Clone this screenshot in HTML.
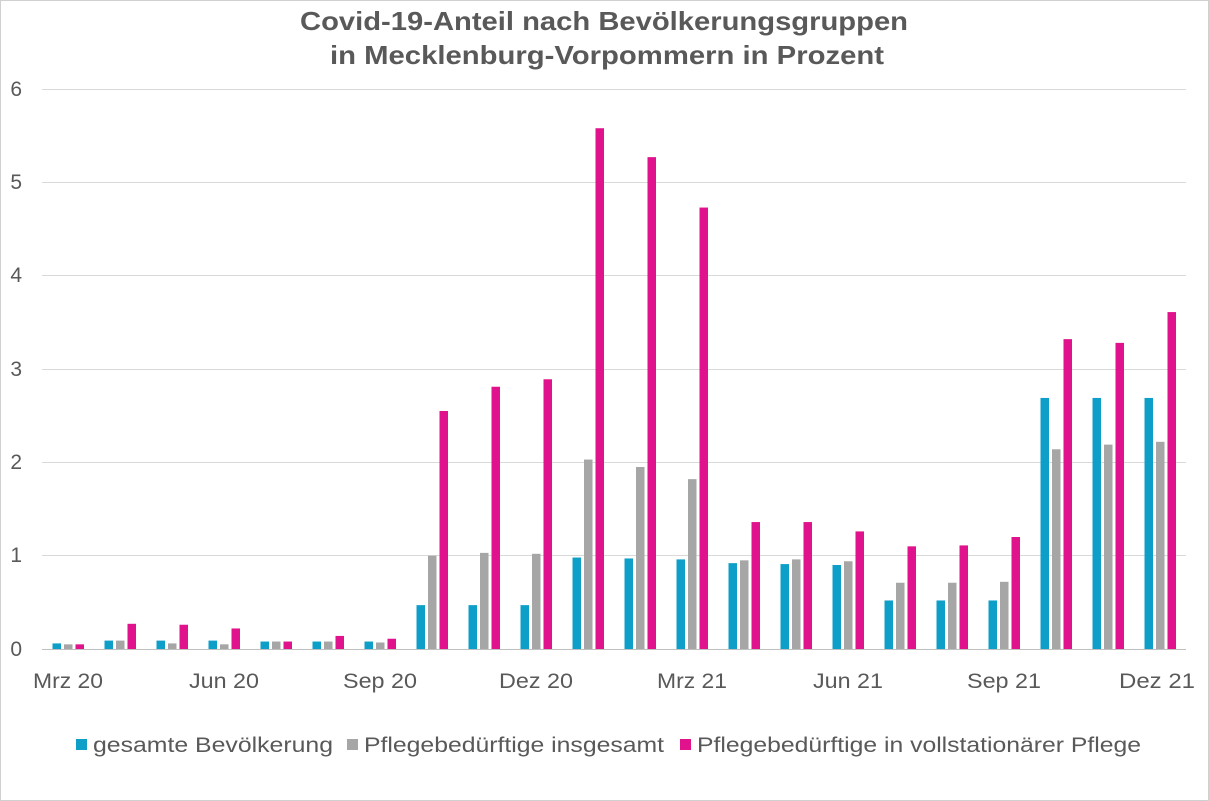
<!DOCTYPE html>
<html><head><meta charset="utf-8"><style>
body{margin:0;background:#fff}
svg{display:block;font-family:"Liberation Sans",Arial,sans-serif}
</style></head><body>
<svg width="1209" height="801" viewBox="0 0 1209 801" xmlns="http://www.w3.org/2000/svg">
<rect x="0.5" y="0.5" width="1208" height="800" fill="#fff" stroke="#d0d0d0"/>
<text x="604" y="30" text-anchor="middle" font-size="26" font-weight="bold" fill="#595959" textLength="608" lengthAdjust="spacingAndGlyphs">Covid-19-Anteil nach Bevölkerungsgruppen</text>
<text x="607" y="64" text-anchor="middle" font-size="26" font-weight="bold" fill="#595959" textLength="554" lengthAdjust="spacingAndGlyphs">in Mecklenburg-Vorpommern in Prozent</text>
<g stroke="#d9d9d9" stroke-width="1">
<line x1="42" x2="1186" y1="89.5" y2="89.5"/><line x1="42" x2="1186" y1="182.5" y2="182.5"/>
<line x1="42" x2="1186" y1="275.5" y2="275.5"/><line x1="42" x2="1186" y1="369.5" y2="369.5"/>
<line x1="42" x2="1186" y1="462.5" y2="462.5"/><line x1="42" x2="1186" y1="555.5" y2="555.5"/>
</g>
<g font-size="21" fill="#595959" text-anchor="end">
<text x="22" y="96">6</text><text x="22" y="189">5</text><text x="22" y="282">4</text>
<text x="22" y="376">3</text><text x="22" y="469">2</text><text x="22" y="562">1</text><text x="22" y="656">0</text>
</g>
<g transform="translate(0,649) scale(1,-93.33)">
<g fill="#0e9fc8">
<rect x="52.5" width="8.5" height=".06"/><rect x="104.5" width="8.5" height=".09"/><rect x="156.5" width="8.5" height=".09"/><rect x="208.5" width="8.5" height=".09"/><rect x="260.5" width="8.5" height=".08"/><rect x="312.5" width="8.5" height=".08"/><rect x="364.5" width="8.5" height=".08"/><rect x="416.5" width="8.5" height=".47"/><rect x="468.5" width="8.5" height=".47"/><rect x="520.5" width="8.5" height=".47"/><rect x="572.5" width="8.5" height=".98"/><rect x="624.5" width="8.5" height=".97"/><rect x="676.5" width="8.5" height=".96"/><rect x="728.5" width="8.5" height=".92"/><rect x="780.5" width="8.5" height=".91"/><rect x="832.5" width="8.5" height=".90"/><rect x="884.5" width="8.5" height=".52"/><rect x="936.5" width="8.5" height=".52"/><rect x="988.5" width="8.5" height=".52"/><rect x="1040.5" width="8.5" height="2.69"/><rect x="1092.5" width="8.5" height="2.69"/><rect x="1144.5" width="8.5" height="2.69"/>
</g>
<g fill="#a6a6a6">
<rect x="64" width="8.5" height=".05"/><rect x="116" width="8.5" height=".09"/><rect x="168" width="8.5" height=".06"/><rect x="220" width="8.5" height=".05"/><rect x="272" width="8.5" height=".08"/><rect x="324" width="8.5" height=".08"/><rect x="376" width="8.5" height=".07"/><rect x="428" width="8.5" height="1.0"/><rect x="480" width="8.5" height="1.03"/><rect x="532" width="8.5" height="1.02"/><rect x="584" width="8.5" height="2.03"/><rect x="636" width="8.5" height="1.95"/><rect x="688" width="8.5" height="1.82"/><rect x="740" width="8.5" height=".95"/><rect x="792" width="8.5" height=".96"/><rect x="844" width="8.5" height=".94"/><rect x="896" width="8.5" height=".71"/><rect x="948" width="8.5" height=".71"/><rect x="1000" width="8.5" height=".72"/><rect x="1052" width="8.5" height="2.14"/><rect x="1104" width="8.5" height="2.19"/><rect x="1156" width="8.5" height="2.22"/>
</g>
<g fill="#e0128c">
<rect x="75.5" width="8.5" height=".05"/><rect x="127.5" width="8.5" height=".27"/><rect x="179.5" width="8.5" height=".26"/><rect x="231.5" width="8.5" height=".22"/><rect x="283.5" width="8.5" height=".08"/><rect x="335.5" width="8.5" height=".14"/><rect x="387.5" width="8.5" height=".11"/><rect x="439.5" width="8.5" height="2.55"/><rect x="491.5" width="8.5" height="2.81"/><rect x="543.5" width="8.5" height="2.89"/><rect x="595.5" width="8.5" height="5.58"/><rect x="647.5" width="8.5" height="5.27"/><rect x="699.5" width="8.5" height="4.73"/><rect x="751.5" width="8.5" height="1.36"/><rect x="803.5" width="8.5" height="1.36"/><rect x="855.5" width="8.5" height="1.26"/><rect x="907.5" width="8.5" height="1.10"/><rect x="959.5" width="8.5" height="1.11"/><rect x="1011.5" width="8.5" height="1.20"/><rect x="1063.5" width="8.5" height="3.32"/><rect x="1115.5" width="8.5" height="3.28"/><rect x="1167.5" width="8.5" height="3.61"/>
</g>
</g>
<line x1="42" x2="1186" y1="649.5" y2="649.5" stroke="#bfbfbf"/>
<g font-size="21" fill="#595959" text-anchor="middle">
<text x="68" y="688" textLength="70" lengthAdjust="spacingAndGlyphs">Mrz 20</text><text x="224" y="688" textLength="70" lengthAdjust="spacingAndGlyphs">Jun 20</text><text x="380" y="688" textLength="74" lengthAdjust="spacingAndGlyphs">Sep 20</text>
<text x="536" y="688" textLength="74" lengthAdjust="spacingAndGlyphs">Dez 20</text><text x="692" y="688" textLength="70" lengthAdjust="spacingAndGlyphs">Mrz 21</text><text x="848" y="688" textLength="70" lengthAdjust="spacingAndGlyphs">Jun 21</text>
<text x="1004" y="688" textLength="74" lengthAdjust="spacingAndGlyphs">Sep 21</text><text x="1157" y="688" textLength="76" lengthAdjust="spacingAndGlyphs">Dez 21</text>
</g>
<g font-size="21" fill="#595959">
<rect x="76" y="739" width="11" height="11" fill="#0e9fc8"/><text x="93" y="752" textLength="240" lengthAdjust="spacingAndGlyphs">gesamte Bevölkerung</text>
<rect x="347" y="739" width="11" height="11" fill="#a6a6a6"/><text x="364" y="752" textLength="300" lengthAdjust="spacingAndGlyphs">Pflegebedürftige insgesamt</text>
<rect x="680" y="739" width="11" height="11" fill="#e0128c"/><text x="697" y="752" textLength="444" lengthAdjust="spacingAndGlyphs">Pflegebedürftige in vollstationärer Pflege</text>
</g>
</svg>
</body></html>
